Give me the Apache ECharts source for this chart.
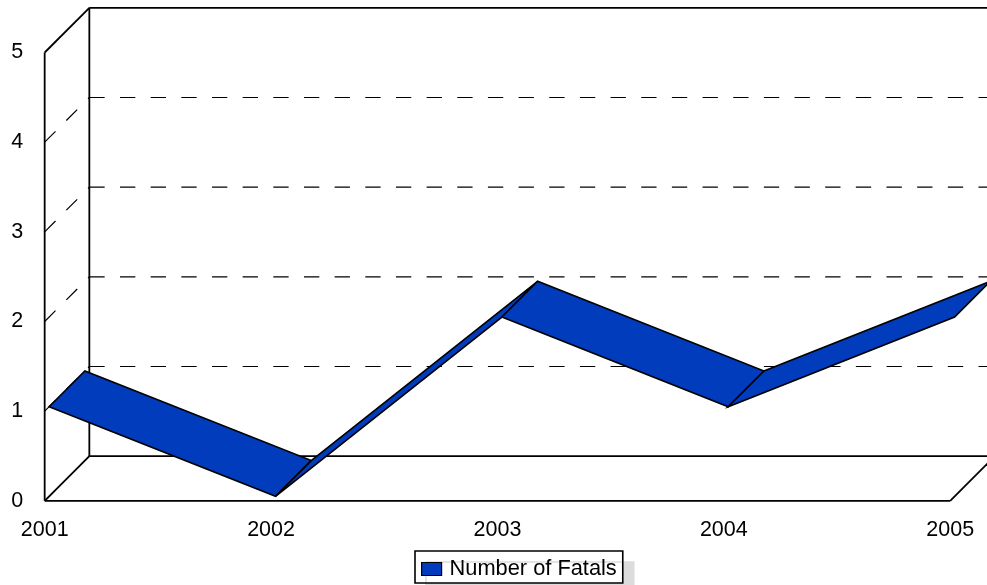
<!DOCTYPE html>
<html>
<head>
<meta charset="utf-8">
<title>Number of Fatals</title>
<script src="https://cdn.jsdelivr.net/npm/echarts@6/dist/echarts.min.js"></script>
<style>
html, body { margin: 0; padding: 0; background: #fff; }
#chart { width: 987px; height: 585px; }
</style>
</head>
<body>
<div id="chart"></div>
<script>
// Yearly counts
const years = ['2001', '2002', '2003', '2004', '2005'];
const fatals = [1, 0, 2, 1, 2];
const gridValues = [1, 2, 3, 4];
const seriesName = 'Number of Fatals';

// Depth of the pseudo-3D box, in pixels, and the slice of it the ribbon occupies
const DEPTH = 44.67;
const RIBBON_NEAR = DEPTH * 0.1;
const RIBBON_FAR = DEPTH * 0.9;
const RIBBON_COLOR = '#003cbc';
const FONT = '"Liberation Sans", Arial, sans-serif';
const LABEL_SIZE = 21.5;
const WALL_WIDTH = 1.8;

function line(x1, y1, x2, y2, width, dash) {
  return {
    type: 'line',
    shape: { x1, y1, x2, y2 },
    silent: true,
    style: { stroke: '#000', lineWidth: width, lineDash: dash || null, fill: null }
  };
}

// Floor, walls and dashed value lines of the box
function renderBox(params, api) {
  const lastX = years.length - 1;
  const [x0, y0] = api.coord([0, 0]);
  const [x1, y1] = api.coord([lastX, 5]);
  const d = DEPTH;
  const dash = [15.33, 15.33];
  const children = [];
  gridValues.forEach(function (v) {
    const y = api.coord([0, v])[1];
    children.push(line(x0, y, x0 + d, y - d, 1.2, dash));
    children.push(line(x0 + d, y - d, x1 + d, y - d, 1.2, dash));
  });
  children.push(
    line(x0, y0, x0, y1, WALL_WIDTH),
    line(x0, y1, x0 + d, y1 - d, WALL_WIDTH),
    line(x0 + d, y1 - d, x0 + d, y0 - d, WALL_WIDTH),
    line(x0 + d, y1 - d, x1 + d, y1 - d, WALL_WIDTH),
    line(x0, y0, x0 + d, y0 - d, WALL_WIDTH),
    line(x0 + d, y0 - d, x1 + d, y0 - d, WALL_WIDTH),
    line(x0, y0, x1, y0, WALL_WIDTH),
    line(x1, y0, x1 + d, y0 - d, WALL_WIDTH)
  );
  return { type: 'group', children };
}

// One ribbon panel between a year and the previous one
function renderRibbon(params, api) {
  const i = params.dataIndex;
  if (i === 0) return null;
  const a = api.coord([i - 1, fatals[i - 1]]);
  const b = api.coord([i, fatals[i]]);
  return {
    type: 'polygon',
    shape: {
      points: [
        [a[0] + RIBBON_NEAR, a[1] - RIBBON_NEAR],
        [b[0] + RIBBON_NEAR, b[1] - RIBBON_NEAR],
        [b[0] + RIBBON_FAR, b[1] - RIBBON_FAR],
        [a[0] + RIBBON_FAR, a[1] - RIBBON_FAR]
      ]
    },
    style: { fill: RIBBON_COLOR, stroke: '#000', lineWidth: 1.6, lineJoin: 'miter' }
  };
}

const chart = echarts.init(document.getElementById('chart'), null, { renderer: 'canvas' });
chart.setOption({
  animation: false,
  backgroundColor: '#fff',
  textStyle: { fontFamily: FONT },
  grid: { left: 44.67, top: 52.5, width: 905.5, height: 448.33, containLabel: false },
  xAxis: {
    type: 'category',
    boundaryGap: false,
    data: years,
    axisLine: { show: false },
    axisTick: { show: false },
    splitLine: { show: false },
    axisLabel: { color: '#000', fontFamily: FONT, fontSize: LABEL_SIZE, margin: 18, interval: 0, hideOverlap: false, showMinLabel: true, showMaxLabel: true }
  },
  yAxis: {
    type: 'value',
    min: 0,
    max: 5,
    interval: 1,
    axisLine: { show: false },
    axisTick: { show: false },
    splitLine: { show: false },
    axisLabel: { color: '#000', fontFamily: FONT, fontSize: LABEL_SIZE, margin: 21.5, padding: [2, 0, 0, 0] }
  },
  legend: {
    show: true,
    data: [seriesName],
    left: 415,
    top: 551,
    orient: 'horizontal',
    padding: [7, 6, 3, 6],
    itemWidth: 20,
    itemHeight: 13,
    itemGap: 0,
    icon: 'rect',
    backgroundColor: '#fff',
    borderColor: '#000',
    borderWidth: 1.6,
    borderRadius: 0,
    shadowColor: '#dcdcdc',
    shadowBlur: 0,
    shadowOffsetX: 11,
    shadowOffsetY: 11,
    itemStyle: { borderColor: '#000', borderWidth: 1.2 },
    textStyle: { color: '#000', fontFamily: FONT, fontSize: 21.8, padding: [2, 0, 0, 3] }
  },
  tooltip: { show: false },
  series: [
    {
      type: 'custom',
      name: 'box',
      silent: true,
      clip: false,
      z: 1,
      renderItem: renderBox,
      data: [[0, 0]],
      encode: { x: 0, y: 1 }
    },
    {
      type: 'custom',
      name: seriesName,
      clip: false,
      z: 2,
      itemStyle: { color: RIBBON_COLOR },
      renderItem: renderRibbon,
      data: fatals.map(function (v, i) { return [i, v]; }),
      encode: { x: 0, y: 1 }
    }
  ]
});
</script>
</body>
</html>
